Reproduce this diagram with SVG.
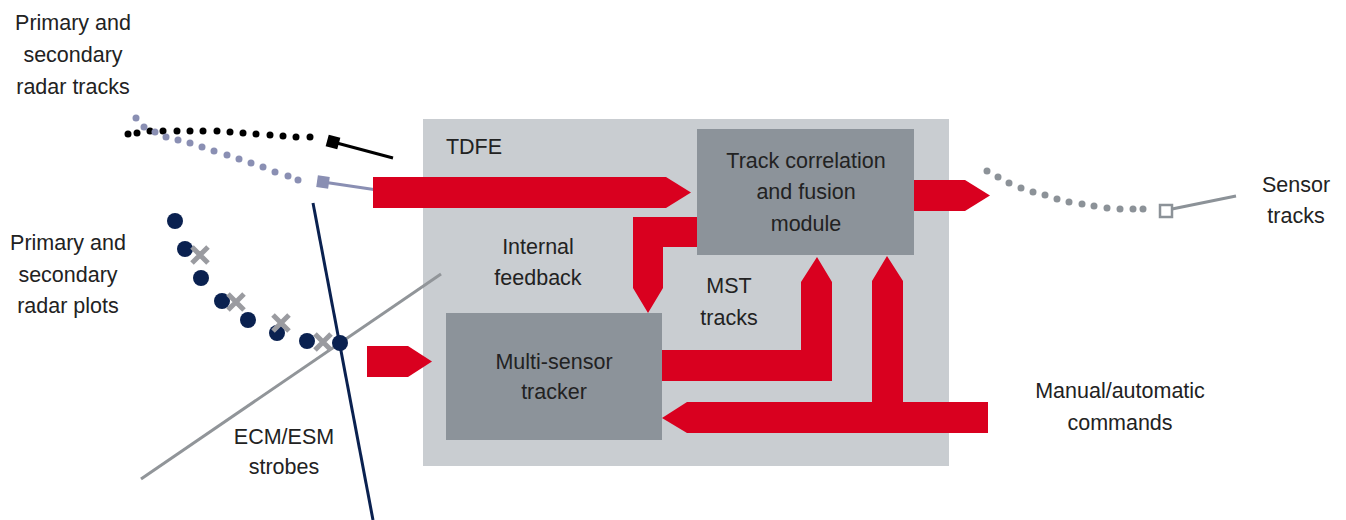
<svg xmlns="http://www.w3.org/2000/svg" width="1346" height="520" viewBox="0 0 1346 520">
<style>
text{font-family:"Liberation Sans",Arial,sans-serif;font-size:21.5px;fill:#222;text-anchor:middle}
.red{fill:#d9001f}
.bk circle{fill:#000}
.pu circle{fill:#8a8fb3}
.gr circle{fill:#8c9298}
.nv circle{fill:#0a2150}
.x{stroke:#9a9ba0;stroke-width:5;fill:none}
</style>
<rect width="1346" height="520" fill="#fff"/>
<g id="tdfe">
<rect x="423" y="119" width="526" height="347" fill="#c9cdd1"/>
<text x="474" y="154">TDFE</text>
</g>
<g id="strobes">
<line x1="141" y1="479" x2="441" y2="274" stroke="#919599" stroke-width="3"/>
<line x1="313" y1="203" x2="373" y2="520" stroke="#0a2150" stroke-width="3"/>
</g>
<g id="radar-tracks">
<g class="bk">
<circle cx="128" cy="134" r="3.5"/><circle cx="137" cy="133" r="3.5"/><circle cx="150" cy="131" r="3.5"/><circle cx="163" cy="131" r="3.5"/><circle cx="177" cy="131" r="3.5"/><circle cx="190" cy="131" r="3.5"/><circle cx="203" cy="131" r="3.5"/><circle cx="217" cy="131" r="3.5"/><circle cx="230" cy="132" r="3.5"/><circle cx="243" cy="133" r="3.5"/><circle cx="256" cy="134" r="3.5"/><circle cx="270" cy="135" r="3.5"/><circle cx="283" cy="136" r="3.5"/><circle cx="296" cy="137" r="3.5"/><circle cx="310" cy="137" r="3.5"/>
</g>
<line x1="333" y1="142" x2="393" y2="158" stroke="#000" stroke-width="3"/>
<rect x="327" y="136" width="12" height="12" fill="#000" transform="rotate(15 333 142)"/>
<g class="pu">
<circle cx="136" cy="118" r="3.5"/><circle cx="144" cy="127" r="3.5"/><circle cx="155" cy="132" r="3.5"/><circle cx="166" cy="137" r="3.5"/><circle cx="178" cy="140" r="3.5"/><circle cx="190" cy="143" r="3.5"/><circle cx="202" cy="147" r="3.5"/><circle cx="214" cy="151" r="3.5"/><circle cx="227" cy="155" r="3.5"/><circle cx="239" cy="159" r="3.5"/><circle cx="251" cy="163" r="3.5"/><circle cx="263" cy="167" r="3.5"/><circle cx="275" cy="172" r="3.5"/><circle cx="288" cy="176" r="3.5"/><circle cx="298" cy="180" r="3.5"/>
</g>
<line x1="323" y1="182" x2="384" y2="191" stroke="#8a8fb3" stroke-width="3"/>
<rect x="317" y="176" width="12" height="12" fill="#8a8fb3" transform="rotate(8 323 182)"/>
<text x="73" y="30">Primary and</text>
<text x="73" y="62">secondary</text>
<text x="73" y="94">radar tracks</text>
</g>
<g id="radar-plots">
<g class="nv">
<circle cx="175" cy="221" r="8"/><circle cx="185" cy="249" r="8"/><circle cx="201" cy="278" r="8"/><circle cx="222" cy="301" r="8"/><circle cx="248" cy="320" r="8"/><circle cx="277" cy="333" r="8"/><circle cx="307" cy="341" r="8"/>
</g>
<path class="x" d="M192 247L208 263M208 247L192 263M228 294L244 310M244 294L228 310M273 315L289 331M289 315L273 331M315 334L331 350M331 334L315 350"/>
<g class="nv"><circle cx="340" cy="343" r="8"/></g>
<text x="68" y="250">Primary and</text>
<text x="68" y="282">secondary</text>
<text x="68" y="313">radar plots</text>
<text x="284" y="444">ECM/ESM</text>
<text x="284" y="474">strobes</text>
</g>
<g id="sensor-tracks">
<g class="gr">
<circle cx="987" cy="171" r="3.5"/><circle cx="998" cy="177" r="3.5"/><circle cx="1009" cy="183" r="3.5"/><circle cx="1021" cy="188" r="3.5"/><circle cx="1033" cy="192" r="3.5"/><circle cx="1045" cy="195" r="3.5"/><circle cx="1057" cy="199" r="3.5"/><circle cx="1069" cy="202" r="3.5"/><circle cx="1082" cy="204" r="3.5"/><circle cx="1094" cy="206" r="3.5"/><circle cx="1107" cy="208" r="3.5"/><circle cx="1120" cy="209" r="3.5"/><circle cx="1133" cy="209" r="3.5"/><circle cx="1143" cy="209" r="3.5"/>
</g>
<line x1="1172" y1="209" x2="1236" y2="196" stroke="#8c9298" stroke-width="3"/>
<rect x="1160" y="205" width="12" height="12" fill="#fff" stroke="#8c9298" stroke-width="2.5"/>
<text x="1296" y="192">Sensor</text>
<text x="1296" y="223">tracks</text>
</g>
<g id="labels">
<text x="538" y="254">Internal</text>
<text x="538" y="285">feedback</text>
<text x="729" y="293">MST</text>
<text x="729" y="325">tracks</text>
<text x="1120" y="398">Manual/automatic</text>
<text x="1120" y="430">commands</text>
</g>
<g id="connectors">
<polygon class="red" points="373,177 666,177 691,192.5 666,208 373,208"/>
<polygon class="red" points="697,217 633,217 633,288 648,313 663,288 663,247 697,247"/>
<polygon class="red" points="662,350 801,350 801,282 817,257 832,282 832,381 662,381"/>
<polygon class="red" points="988,402 903,402 903,281 887,256 872,281 872,402 687,402 662,418 687,433 988,433"/>
<polygon class="red" points="914,180 965,180 990,195.5 965,211 914,211"/>
<polygon class="red" points="367,346 408,346 432,361.5 408,377 367,377"/>
</g>
<g id="track-correlation">
<rect x="697" y="129" width="217" height="126" fill="#8c939a"/>
<text x="806" y="168">Track correlation</text>
<text x="806" y="199">and fusion</text>
<text x="806" y="231">module</text>
</g>
<g id="mst">
<rect x="446" y="313" width="216" height="127" fill="#8c939a"/>
<text x="554" y="369">Multi-sensor</text>
<text x="554" y="399">tracker</text>
</g>
</svg>
